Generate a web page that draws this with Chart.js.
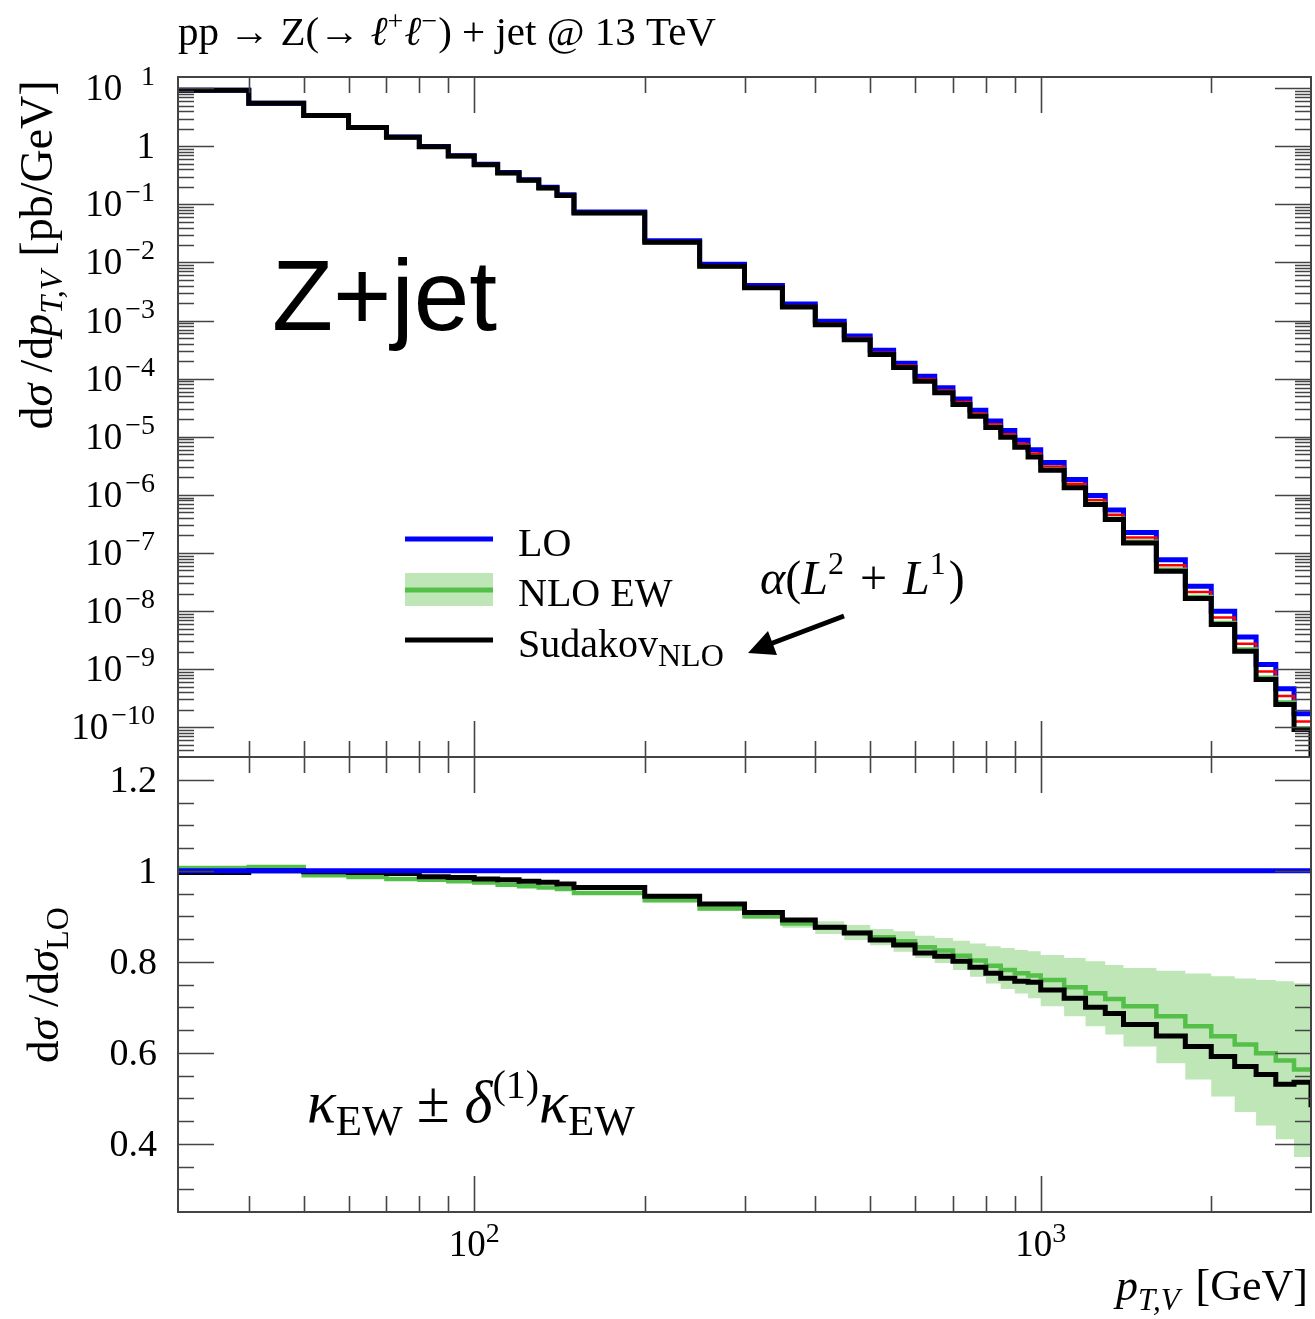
<!DOCTYPE html>
<html>
<head>
<meta charset="utf-8">
<title>Z+jet: LO, NLO EW, Sudakov NLO</title>
<script src="https://cdn.jsdelivr.net/npm/chart.js@4.4.1/dist/chart.umd.min.js"></script>
<style>
  html, body { margin: 0; padding: 0; background: #fff; }
  #wrap { position: relative; width: 1315px; height: 1319px; overflow: hidden; }
  #wrap canvas { position: absolute; left: 0; }
  #main { top: 0; }
  #ratio { top: 745px; }
</style>
</head>
<body>
<div id="wrap">
  <canvas id="main" width="1315" height="770"></canvas>
  <canvas id="ratio" width="1315" height="574"></canvas>
</div>
<script>
// pp -> Z(-> l+l-) + jet @ 13 TeV — histogram + ratio panel, Chart.js

// ============= Data =============

// bin edges pT,V [GeV] (41 bins)
const edges = [30, 40, 50, 60, 70, 80, 90, 100, 110, 120, 130, 140, 150, 200, 250, 300, 350, 400,
  450, 500, 550, 600, 650, 700, 750, 800, 850, 900, 950, 1000, 1100, 1200, 1300, 1400, 1600,
  1800, 2000, 2200, 2400, 2600, 2800, 3000];
const overflowEdge = 3200; // next bin, outside the frame (only its drop is visible)

// upper panel: dsigma/dpT [pb/GeV]
const loXs = [9.24, 5.5, 3.4, 2.1, 1.44, 0.99, 0.69, 0.49, 0.355, 0.266, 0.197, 0.146, 0.074,
  0.0236, 0.0093, 0.00403, 1.93e-3, 9.7e-4, 5.45e-4, 3.07e-4, 1.85e-4, 1.10e-4, 7.0e-5, 4.47e-5,
  2.86e-5, 1.87e-5, 1.28e-5, 8.7e-6, 5.96e-6, 3.59e-6, 1.83e-6, 9.7e-7, 5.48e-7, 2.25e-7, 7.6e-8,
  2.67e-8, 9.9e-9, 3.56e-9, 1.2e-9, 4.6e-10, 1.7e-10];
const nloEwXs = [9.26, 5.54, 3.37, 2.07, 1.414, 0.970, 0.674, 0.477, 0.344, 0.257, 0.190, 0.140,
  0.0704, 0.0221, 0.00853, 0.00363, 1.71e-3, 8.49e-4, 4.71e-4, 2.62e-4, 1.56e-4, 9.15e-5, 5.78e-5,
  3.63e-5, 2.30e-5, 1.48e-5, 1.00e-5, 6.74e-6, 4.59e-6, 2.73e-6, 1.36e-6, 7.09e-7, 3.93e-7,
  1.58e-7, 5.17e-8, 1.76e-8, 6.30e-9, 2.20e-9, 7.19e-10, 2.68e-10, 9.57e-11];
const redXs = [9.24, 5.53, 3.38, 2.08, 1.424, 0.978, 0.680, 0.482, 0.348, 0.261, 0.193, 0.1425,
  0.0718, 0.02268, 0.00884, 0.00379, 1.79e-3, 8.97e-4, 5.00e-4, 2.80e-4, 1.68e-4, 9.89e-5,
  6.27e-5, 3.97e-5, 2.52e-5, 1.64e-5, 1.11e-5, 7.53e-6, 5.14e-6, 3.07e-6, 1.55e-6, 8.14e-7,
  4.55e-7, 1.85e-7, 6.14e-8, 2.12e-8, 7.74e-9, 2.74e-9, 9.11e-10, 3.45e-10, 1.25e-10];
const sudakovXs = [9.2, 5.5, 3.4, 2.1, 1.43, 0.98, 0.68, 0.48, 0.348, 0.26, 0.192, 0.142, 0.0714,
  0.0223, 0.0086, 0.00366, 1.72e-3, 8.5e-4, 4.7e-4, 2.6e-4, 1.55e-4, 9.0e-5, 5.7e-5, 3.58e-5,
  2.25e-5, 1.45e-5, 9.8e-6, 6.6e-6, 4.5e-6, 2.65e-6, 1.32e-6, 6.8e-7, 3.76e-7, 1.49e-7, 4.85e-8,
  1.64e-8, 5.86e-9, 2.03e-9, 6.6e-10, 2.45e-10, 9.1e-11];
const sudakovXsOverflow = 1e-11;

// lower panel: ratio to LO
const loRatio = 1;
const nloEwRatio = [1.006, 1.008, 0.990, 0.986, 0.982, 0.980, 0.977, 0.974, 0.969, 0.966, 0.963,
  0.960, 0.951, 0.935, 0.917, 0.900, 0.884, 0.875, 0.864, 0.854, 0.845, 0.832, 0.825, 0.813,
  0.803, 0.791, 0.782, 0.775, 0.770, 0.760, 0.744, 0.731, 0.718, 0.702, 0.680, 0.658, 0.636,
  0.618, 0.599, 0.583, 0.563];
const nloEwBandHi = [1.009, 1.011, 0.993, 0.989, 0.985, 0.983, 0.980, 0.977, 0.972, 0.969, 0.966,
  0.963, 0.954, 0.939, 0.922, 0.906, 0.893, 0.889, 0.881, 0.872, 0.867, 0.857, 0.852, 0.846,
  0.840, 0.834, 0.830, 0.826, 0.823, 0.815, 0.808, 0.801, 0.793, 0.786, 0.780, 0.774, 0.768,
  0.763, 0.760, 0.757, 0.753];
const nloEwBandLo = [1.003, 1.005, 0.987, 0.983, 0.979, 0.977, 0.974, 0.971, 0.966, 0.963, 0.960,
  0.957, 0.948, 0.931, 0.912, 0.894, 0.875, 0.861, 0.848, 0.836, 0.822, 0.808, 0.797, 0.782,
  0.767, 0.752, 0.740, 0.730, 0.720, 0.702, 0.680, 0.658, 0.640, 0.614, 0.577, 0.541, 0.504,
  0.470, 0.440, 0.410, 0.371];
const sudakovRatio = [0.996, 1.000, 0.998, 0.996, 0.994, 0.987, 0.985, 0.982, 0.980, 0.977, 0.975,
  0.971, 0.963, 0.944, 0.927, 0.908, 0.892, 0.876, 0.863, 0.848, 0.837, 0.819, 0.812, 0.801,
  0.788, 0.775, 0.764, 0.757, 0.755, 0.738, 0.720, 0.700, 0.686, 0.662, 0.637, 0.614, 0.592,
  0.570, 0.552, 0.531, 0.535];
const sudakovRatioOverflow = 0.48;

// axis ranges
const X_MIN = 30, X_MAX = 3000;
const Y_MIN = 3.07e-11, Y_MAX = 15.6;
const R_MIN = 0.25, R_MAX = 1.25;

// ============= Helpers =============

const SERIF = '"Liberation Serif", "DejaVu Serif", serif';
const SANS = '"Liberation Sans", Arial, sans-serif';
const font = (size, style = "") => `${style} ${size}px ${SERIF}`.trim();

const COL = {
  lo: "#0000ff",
  nlo: "#55c049",
  band: "#bee6b7",
  red: "#ff0000",
  sud: "#000000",
  axis: "#444444",
};

// histogram -> stepped points (value at left edge, last value repeated at right edge)
function histPoints(vals, overflow) {
  const pts = vals.map((v, i) => ({ x: edges[i], y: v }));
  pts.push({ x: edges[vals.length], y: vals[vals.length - 1] });
  if (overflow !== undefined) {
    pts.push({ x: edges[vals.length], y: overflow });
    pts.push({ x: overflowEdge, y: overflow });
  }
  return pts;
}

function stepLine(label, data, color, width, order, extra = {}) {
  return {
    label, data, order,
    borderColor: color,
    backgroundColor: color,
    borderWidth: width,
    stepped: true,
    pointRadius: 0,
    borderJoinStyle: "miter",
    borderCapStyle: "butt",
    fill: false,
    clip: 0,
    ...extra,
  };
}

// rich text: parts = [text, font, dy, dx]
function textWidth(ctx, parts) {
  let w = 0;
  for (const p of parts) { ctx.font = p[1]; w += ctx.measureText(p[0]).width + (p[3] || 0); }
  return w;
}
function drawRich(ctx, parts, x, y, align = "left") {
  const w = textWidth(ctx, parts);
  let cx = align === "right" ? x - w : align === "center" ? x - w / 2 : x;
  ctx.textAlign = "left";
  ctx.textBaseline = "alphabetic";
  for (const p of parts) {
    ctx.font = p[1];
    ctx.fillText(p[0], cx, y + (p[2] || 0));
    cx += ctx.measureText(p[0]).width + (p[3] || 0);
  }
}

function logTicks(min, max) {
  const out = [];
  for (let e = Math.floor(Math.log10(min)); e <= Math.ceil(Math.log10(max)); e++) {
    for (let m = 1; m <= 9; m++) {
      const v = m * Math.pow(10, e);
      if (v > min * 1.0001 && v < max * 0.9999) out.push({ v, major: m === 1, e });
    }
  }
  return out;
}
function linTicks(min, max, step, every) {
  const out = [];
  for (let k = Math.ceil(min / step + 1e-6); k <= Math.floor(max / step - 1e-6); k++) {
    out.push({ v: +(k * step).toFixed(4), major: k % every === 0 });
  }
  return out;
}

function drawFrameTicks(chart, yTicks) {
  const { ctx, chartArea: a, scales } = chart;
  ctx.save();
  ctx.strokeStyle = COL.axis;
  ctx.lineWidth = 1.6;
  ctx.beginPath();
  for (const t of logTicks(X_MIN, X_MAX)) {
    const px = Math.round(scales.x.getPixelForValue(t.v)) + 0.5;
    const L = t.major ? 36 : 16;
    ctx.moveTo(px, a.top); ctx.lineTo(px, a.top + L);
    ctx.moveTo(px, a.bottom); ctx.lineTo(px, a.bottom - L);
  }
  for (const t of yTicks) {
    const py = Math.round(scales.y.getPixelForValue(t.v)) + 0.5;
    const L = t.major ? 36 : 16;
    ctx.moveTo(a.left, py); ctx.lineTo(a.left + L, py);
    ctx.moveTo(a.right, py); ctx.lineTo(a.right - L, py);
  }
  ctx.stroke();
  ctx.lineWidth = 2;
  ctx.strokeRect(a.left, a.top, a.right - a.left, a.bottom - a.top);
  ctx.restore();
}

// ============= Upper panel =============

const mainDecor = {
  id: "mainDecor",
  afterDraw(chart) {
    const { ctx, scales } = chart;
    const yTicks = logTicks(Y_MIN, Y_MAX);
    drawFrameTicks(chart, yTicks);

    ctx.save();
    ctx.fillStyle = "#000";

    // y tick labels 10^n
    for (const t of yTicks) {
      if (!t.major) continue;
      const py = scales.y.getPixelForValue(t.v);
      if (t.e === 0) {
        drawRich(ctx, [["1", font(37)]], 155, py + 12, "right");
        continue;
      }
      const exp = t.e < 0 ? "\u2212" + (-t.e) : String(t.e);
      ctx.font = font(28);
      const expW = ctx.measureText(t.e < 0 ? exp : "\u2212" + exp).width;
      drawRich(ctx, [[exp, font(28)]], 155, py - 3, "right");
      drawRich(ctx, [["10", font(37)]], 155 - expW - 3, py + 12, "right");
    }

    // title
    drawRich(ctx, [
      ["pp \u2192 Z(\u2192 ", font(41)],
      ["\u2113", font(41, "italic")], ["+", font(28), -15, 1],
      ["\u2113", font(41, "italic")], ["\u2212", font(28), -15, 1],
      [") + jet @ 13 TeV", font(41)],
    ], 178, 45);

    // y axis title
    ctx.save();
    ctx.translate(52, 255);
    ctx.rotate(-Math.PI / 2);
    drawRich(ctx, [
      ["d", font(46)], ["\u03c3", font(46, "italic")], [" /d", font(46)],
      ["p", font(46, "italic")], ["T,V", font(32, "italic"), 10, 14],
      ["[pb/GeV]", font(46)],
    ], 0, 0, "center");
    ctx.restore();

    // process label
    ctx.font = `100px ${SANS}`;
    ctx.textAlign = "left";
    ctx.fillText("Z+jet", 272, 330);

    // legend
    const lx0 = 405, lx1 = 493;
    ctx.fillStyle = COL.band;
    ctx.fillRect(lx0, 573, lx1 - lx0, 33);
    ctx.lineWidth = 5;
    [[539, COL.lo], [590, COL.nlo], [640, COL.sud]].forEach(([yy, c]) => {
      ctx.strokeStyle = c;
      ctx.beginPath(); ctx.moveTo(lx0, yy); ctx.lineTo(lx1, yy); ctx.stroke();
    });
    ctx.fillStyle = "#000";
    drawRich(ctx, [["LO", font(40)]], 518, 556);
    drawRich(ctx, [["NLO EW", font(40)]], 518, 606);
    drawRich(ctx, [["Sudakov", font(40)], ["NLO", font(32), 9, 2]], 518, 657);

    // annotation + arrow
    drawRich(ctx, [
      ["\u03b1", font(48, "italic")], ["(", font(48)], ["L", font(48, "italic")],
      ["2", font(32), -20, 4], [" + ", font(48), 0, 4], ["L", font(48, "italic")],
      ["1", font(32), -20, 3], [")", font(48)],
    ], 760, 594);
    ctx.strokeStyle = "#000";
    ctx.lineWidth = 5;
    ctx.beginPath(); ctx.moveTo(844, 616); ctx.lineTo(770, 644); ctx.stroke();
    ctx.beginPath();
    ctx.moveTo(748, 653); ctx.lineTo(768, 631); ctx.lineTo(777, 655); ctx.closePath();
    ctx.fillStyle = "#000";
    ctx.fill();

    ctx.restore();
  },
};

new Chart(document.getElementById("main"), {
  type: "line",
  data: {
    datasets: [
      stepLine("Sudakov_NLO", histPoints(sudakovXs, sudakovXsOverflow), COL.sud, 5, 0),
      stepLine("NLO EW", histPoints(nloEwXs), COL.nlo, 4, 1),
      stepLine("aux", histPoints(redXs), COL.red, 2.5, 2),
      stepLine("LO", histPoints(loXs), COL.lo, 5, 3),
    ],
  },
  options: {
    responsive: false,
    animation: false,
    devicePixelRatio: 1,
    parsing: false,
    normalized: true,
    layout: { padding: { left: 178, right: 4, top: 77, bottom: 13 } },
    plugins: { legend: { display: false }, tooltip: { enabled: false } },
    scales: {
      x: { type: "logarithmic", min: X_MIN, max: X_MAX, display: false },
      y: { type: "logarithmic", min: Y_MIN, max: Y_MAX, display: false },
    },
  },
  plugins: [mainDecor],
});

// ============= Ratio panel =============

const ratioDecor = {
  id: "ratioDecor",
  afterDraw(chart) {
    const { ctx, scales, chartArea: a } = chart;
    const yTicks = linTicks(R_MIN, R_MAX, 0.05, 4);
    drawFrameTicks(chart, yTicks);

    ctx.save();
    ctx.fillStyle = "#000";
    for (const t of yTicks) {
      if (!t.major) continue;
      const py = scales.y.getPixelForValue(t.v);
      const lab = Math.abs(t.v - 1) < 1e-6 ? "1" : t.v.toFixed(1);
      drawRich(ctx, [[lab, font(38)]], 157, py + 12, "right");
    }

    // x tick labels
    for (const t of logTicks(X_MIN, X_MAX)) {
      if (!t.major) continue;
      const px = scales.x.getPixelForValue(t.v);
      drawRich(ctx, [["10", font(37)], [String(t.e), font(28), -14, 0]], px, a.bottom + 44, "center");
    }

    // x title
    drawRich(ctx, [
      ["p", font(44, "italic")], ["T,V", font(31, "italic"), 10, 16],
      ["[GeV]", font(44)],
    ], 1308, a.bottom + 88, "right");

    // y title
    ctx.save();
    ctx.translate(58, 240);
    ctx.rotate(-Math.PI / 2);
    drawRich(ctx, [
      ["d", font(45)], ["\u03c3", font(45, "italic")], [" /d", font(45)],
      ["\u03c3", font(45, "italic")], ["LO", font(32), 10],
    ], 0, 0, "center");
    ctx.restore();

    // kappa label
    drawRich(ctx, [
      ["\u03ba", font(60, "italic")], ["EW", font(43), 13, 14],
      ["\u00b1 ", font(60)], ["\u03b4", font(60, "italic")], ["(1)", font(40), -24],
      ["\u03ba", font(60, "italic")], ["EW", font(43), 13],
    ], 307, 377);

    ctx.restore();
  },
};

new Chart(document.getElementById("ratio"), {
  type: "line",
  data: {
    datasets: [
      stepLine("LO", [{ x: X_MIN, y: loRatio }, { x: X_MAX, y: loRatio }], COL.lo, 5, 0),
      stepLine("Sudakov_NLO", histPoints(sudakovRatio, sudakovRatioOverflow), COL.sud, 5, 1),
      stepLine("NLO EW", histPoints(nloEwRatio), COL.nlo, 4.5, 2),
      stepLine("band hi", histPoints(nloEwBandHi), COL.band, 0, 3,
        { fill: "+1", backgroundColor: COL.band }),
      stepLine("band lo", histPoints(nloEwBandLo), COL.band, 0, 4),
    ],
  },
  options: {
    responsive: false,
    animation: false,
    devicePixelRatio: 1,
    parsing: false,
    normalized: true,
    layout: { padding: { left: 178, right: 4, top: 12, bottom: 107 } },
    plugins: { legend: { display: false }, tooltip: { enabled: false }, filler: { propagate: false } },
    scales: {
      x: { type: "logarithmic", min: X_MIN, max: X_MAX, display: false },
      y: { type: "linear", min: R_MIN, max: R_MAX, display: false },
    },
  },
  plugins: [ratioDecor],
});
</script>
</body>
</html>
